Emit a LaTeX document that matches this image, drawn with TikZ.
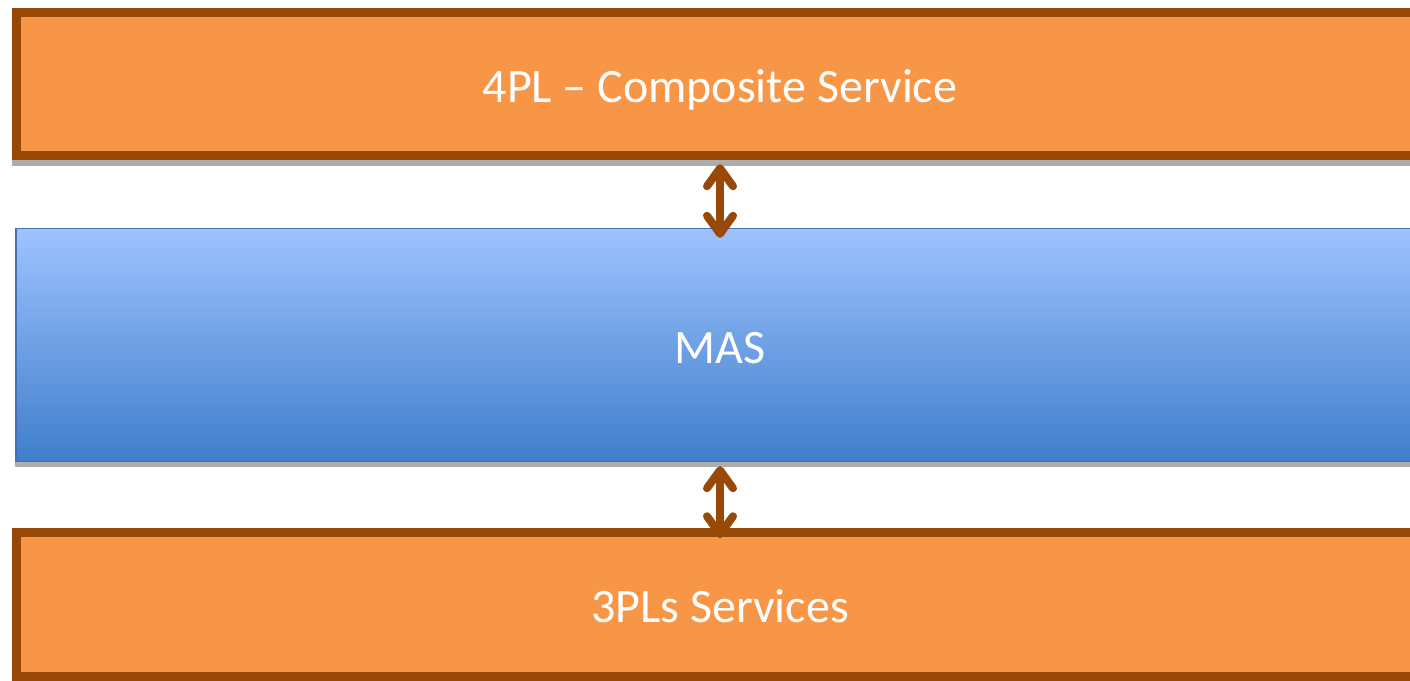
\documentclass[tikz,border=0pt]{standalone}
\usepackage{fontspec}
\setmainfont{Carlito}
\usetikzlibrary{arrows.meta,positioning}
\definecolor{layerfill}{HTML}{F79646}
\definecolor{layeredge}{HTML}{984807}
\definecolor{mastop}{HTML}{9EC3FF}
\definecolor{masbottom}{HTML}{3F7ECB}
\definecolor{masedge}{HTML}{4470B8}

\begin{document}
\begin{tikzpicture}
[x=0.02cm,y=-0.02cm,
every node/.style={shape=rectangle,inner sep=0pt,text=white,
	text height=0.72cm,text depth=0pt,font=\fontsize{27.3}{33}\selectfont},
layer/.style={draw=layeredge,fill=layerfill,line width=0.18cm,
	minimum width=28.14cm,minimum height=2.87cm},
agents/.style={draw=masedge,line width=0.03cm,top color=mastop,
	bottom color=masbottom,minimum width=28.16cm,minimum height=4.66cm},
link/.style={{Straight Barb[round,length=0.36cm,width=0.52cm]}-{Straight Barb[round,length=0.36cm,width=0.52cm]},
	line width=0.16cm,draw=layeredge,shorten <=0.08cm,shorten >=-0.2cm},
shadowbar/.style={fill=black!32}]

\useasboundingbox (0,0) rectangle (1410,680);
\clip (0,0) rectangle (1410,680);

\node[layer] (fourpl) at (720,84) {4PL -- Composite Service};
\node[agents] (mas) at (720,345) {MAS};
\node[layer] (threepl) at (720,604.5) {3PLs Services};

% shadows under the layers
\fill[shadowbar] (fourpl.south west) rectangle ([yshift=-0.12cm]fourpl.south east);
\fill[shadowbar] (mas.south west) rectangle ([yshift=-0.1cm]mas.south east);

\path
\foreach \startNode/\endNode in {fourpl/mas,mas/threepl}{
	(\startNode) edge[link] (\endNode)
};
\end{tikzpicture}
\end{document}
